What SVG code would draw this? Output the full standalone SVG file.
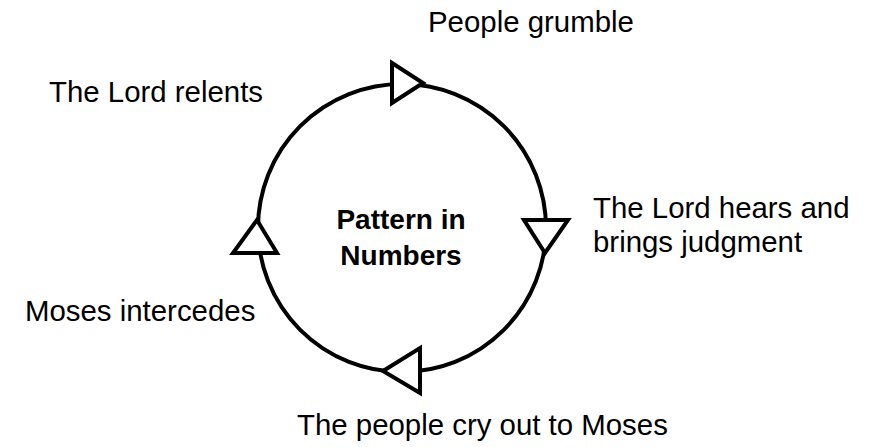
<svg xmlns="http://www.w3.org/2000/svg" width="871" height="447" viewBox="0 0 871 447">
<style>
.lbl{font-family:"Liberation Sans",Arial,sans-serif;font-size:29.4px;fill:#000}
.ctr{font-family:"Liberation Sans",Arial,sans-serif;font-size:28px;font-weight:bold;fill:#000;text-anchor:middle}
.ring{fill:none;stroke:#000;stroke-width:4}
.arr{fill:#fff;stroke:#000;stroke-width:4;stroke-linejoin:miter}
</style>
<rect width="871" height="447" fill="#fff"/>
<g id="connectors">
<circle class="ring" cx="402" cy="228" r="144"/>
<polygon class="arr" points="392,63 392,103 423,83"/>
<polygon class="arr" points="524,220 568,220 545,253"/>
<polygon class="arr" points="420,348 420,393 383,371"/>
<polygon class="arr" points="257,220 233,253 277,253"/>
</g>
<g id="center"><text class="ctr" x="401" y="229">Pattern in</text><text class="ctr" x="401" y="265">Numbers</text></g>
<g id="grumble"><text class="lbl" x="428" y="32">People grumble</text></g>
<g id="hears"><text class="lbl" x="593" y="218">The Lord hears and</text><text class="lbl" x="593" y="252">brings judgment</text></g>
<g id="cry"><text class="lbl" x="297" y="435">The people cry out to Moses</text></g>
<g id="intercedes"><text class="lbl" x="25" y="321">Moses intercedes</text></g>
<g id="relents"><text class="lbl" x="49" y="102">The Lord relents</text></g>
</svg>
